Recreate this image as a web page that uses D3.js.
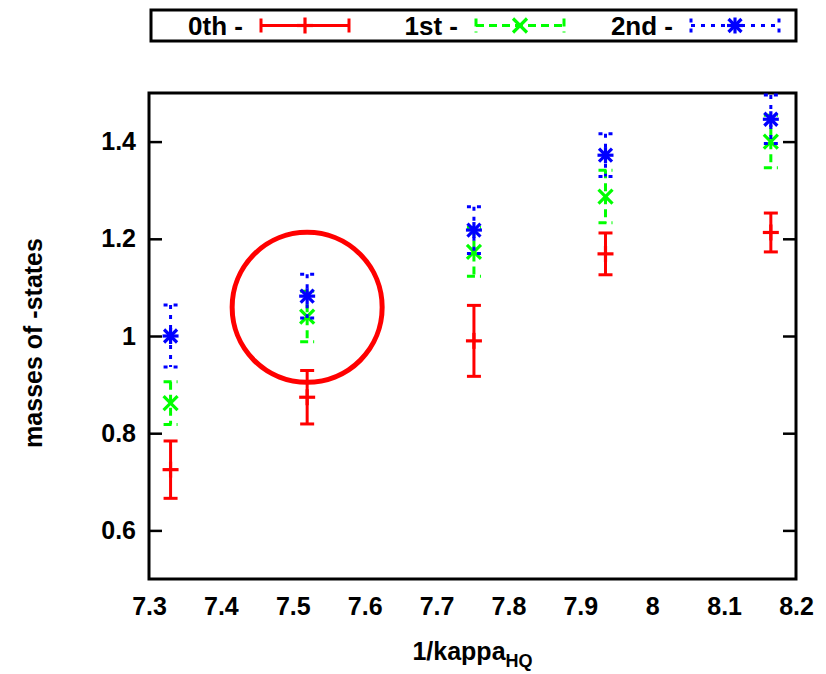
<!DOCTYPE html>
<html>
<head>
<meta charset="utf-8">
<script src="https://cdn.jsdelivr.net/npm/d3@7"></script>
<style>
body { margin: 0; background: #fff; }
text { font-family: "Liberation Sans", Arial, sans-serif; font-weight: bold; fill: #000; }
</style>
</head>
<body>
<svg width="826" height="674"></svg>
<script>
// data
const kappaInv = [7.33, 7.52, 7.752, 7.935, 8.165]
const mass0 = [0.725, 0.874, 0.99, 1.169, 1.213]
const err0 = [0.059, 0.055, 0.073, 0.043, 0.04]
const mass1 = [0.862, 1.04, 1.173, 1.287, 1.40]
const err1 = [0.044, 0.052, 0.05, 0.054, 0.054]
const mass2 = [1.0, 1.082, 1.218, 1.372, 1.446]
const err2 = [0.064, 0.045, 0.048, 0.044, 0.05]
const seriesNames = ['0th -', '1st -', '2nd -']
const xTicks = [7.3, 7.4, 7.5, 7.6, 7.7, 7.8, 7.9, 8, 8.1, 8.2]
const yTicks = [0.6, 0.8, 1, 1.2, 1.4]
const circleAt = [7.52, 1.059]

const svg = d3.select('svg')
const width = +svg.attr('width')
const height = +svg.attr('height')
const margin = { left: 149, right: 30, top: 93, bottom: 95 }
const innerWidth = width - margin.left - margin.right
const innerHeight = height - margin.top - margin.bottom
const fs = 25

const xScale = d3.scaleLinear().domain([7.3, 8.2]).range([0, innerWidth])
const yScale = d3.scaleLinear().domain([0.5, 1.5]).range([innerHeight, 0])

const g = svg.append('g')
    .attr('transform', `translate(${margin.left},${margin.top})`)

// y axis, ticks inside, mirrored on the right
const yAxis = d3.axisLeft(yScale).tickValues(yTicks).tickSize(-13)
    .tickFormat(d3.format('~g'))
g.append('g').call(yAxis)
    .call(a => a.select('.domain').remove())
    .call(a => a.selectAll('line').attr('stroke', '#000').attr('stroke-width', 2.5))
    .call(a => a.selectAll('text').attr('font-size', fs).attr('x', -13))
g.append('g').attr('transform', `translate(${innerWidth},0)`)
    .call(d3.axisRight(yScale).tickValues(yTicks).tickSize(-13))
    .call(a => a.select('.domain').remove())
    .call(a => a.selectAll('text').remove())
    .call(a => a.selectAll('line').attr('stroke', '#000').attr('stroke-width', 2.5))

const xAxis = d3.axisBottom(xScale).tickValues(xTicks).tickSize(0).tickPadding(18)
    .tickFormat(d3.format('~g'))
g.append('g').attr('transform', `translate(0,${innerHeight})`).call(xAxis)
    .call(a => a.select('.domain').remove())
    .call(a => a.selectAll('text').attr('font-size', fs))

g.append('rect')
    .attr('width', innerWidth).attr('height', innerHeight)
    .attr('fill', 'none').attr('stroke', '#000').attr('stroke-width', 3)

// series styles
const styles = [
    { color: '#ff0000', dash: null, point: 'plus' },
    { color: '#00ff00', dash: '8,5', point: 'cross' },
    { color: '#0000ff', dash: '4,6', point: 'star' }
]

const drawPoint = (sel, x, y, kind, color) => {
    const s = 8
    const segs = []
    if (kind === 'plus' || kind === 'star') {
        segs.push([x - s, y, x + s, y], [x, y - s, x, y + s])
    }
    if (kind === 'cross' || kind === 'star') {
        const c = kind === 'star' ? 6.5 : 7
        segs.push([x - c, y - c, x + c, y + c], [x - c, y + c, x + c, y - c])
    }
    segs.forEach(p => sel.append('line')
        .attr('x1', p[0]).attr('y1', p[1]).attr('x2', p[2]).attr('y2', p[3])
        .attr('stroke', color).attr('stroke-width', 3.2))
}

const allSeries = [[mass0, err0], [mass1, err1], [mass2, err2]]
allSeries.forEach(([m, e], i) => {
    const st = styles[i]
    const sg = g.append('g')
    kappaInv.forEach((k, j) => {
        const x = xScale(k)
        const yHi = yScale(m[j] + e[j])
        const yLo = yScale(m[j] - e[j])
        sg.append('line')
            .attr('x1', x).attr('x2', x).attr('y1', yHi).attr('y2', yLo)
            .attr('stroke', st.color).attr('stroke-width', 3)
            .attr('stroke-dasharray', st.dash)
        ;[yHi, yLo].forEach(yc => sg.append('line')
            .attr('x1', x - 7).attr('x2', x + 7).attr('y1', yc).attr('y2', yc)
            .attr('stroke', st.color).attr('stroke-width', 3)
            .attr('stroke-dasharray', st.dash))
        drawPoint(sg, x, yScale(m[j]), st.point, st.color)
    })
})

// highlight circle
g.append('circle')
    .attr('cx', xScale(circleAt[0])).attr('cy', yScale(circleAt[1]))
    .attr('r', 75)
    .attr('fill', 'none').attr('stroke', '#ff0000').attr('stroke-width', 5)

// axis labels
const xl = svg.append('text')
    .attr('x', margin.left + innerWidth / 2).attr('y', 660)
    .attr('text-anchor', 'middle').attr('font-size', fs)
xl.append('tspan').text('1/kappa')
xl.append('tspan').text('HQ').attr('font-size', 18).attr('dy', 7)

svg.append('text')
    .attr('transform', `translate(42,343) rotate(-90)`)
    .attr('text-anchor', 'middle').attr('font-size', fs)
    .text('masses of -states')

// legend
const legend = svg.append('g')
legend.append('rect')
    .attr('x', 151).attr('y', 10).attr('width', 645).attr('height', 31)
    .attr('fill', '#fff').attr('stroke', '#000').attr('stroke-width', 3)
seriesNames.forEach((name, i) => {
    const st = styles[i]
    const tx = 243 + i * 215
    const x0 = 261 + i * 215
    const x1 = x0 + 88
    const ly = 25.5
    legend.append('text')
        .attr('x', tx).attr('y', 35).attr('text-anchor', 'end').attr('font-size', fs + 1)
        .text(name)
    legend.append('line')
        .attr('x1', x0).attr('x2', x1).attr('y1', ly).attr('y2', ly)
        .attr('stroke', st.color).attr('stroke-width', 3)
        .attr('stroke-dasharray', st.dash)
    ;[x0, x1].forEach(xc => legend.append('line')
        .attr('x1', xc).attr('x2', xc).attr('y1', ly - 7).attr('y2', ly + 7)
        .attr('stroke', st.color).attr('stroke-width', 3)
        .attr('stroke-dasharray', st.dash))
    drawPoint(legend, (x0 + x1) / 2, ly, st.point, st.color)
})
</script>
</body>
</html>
